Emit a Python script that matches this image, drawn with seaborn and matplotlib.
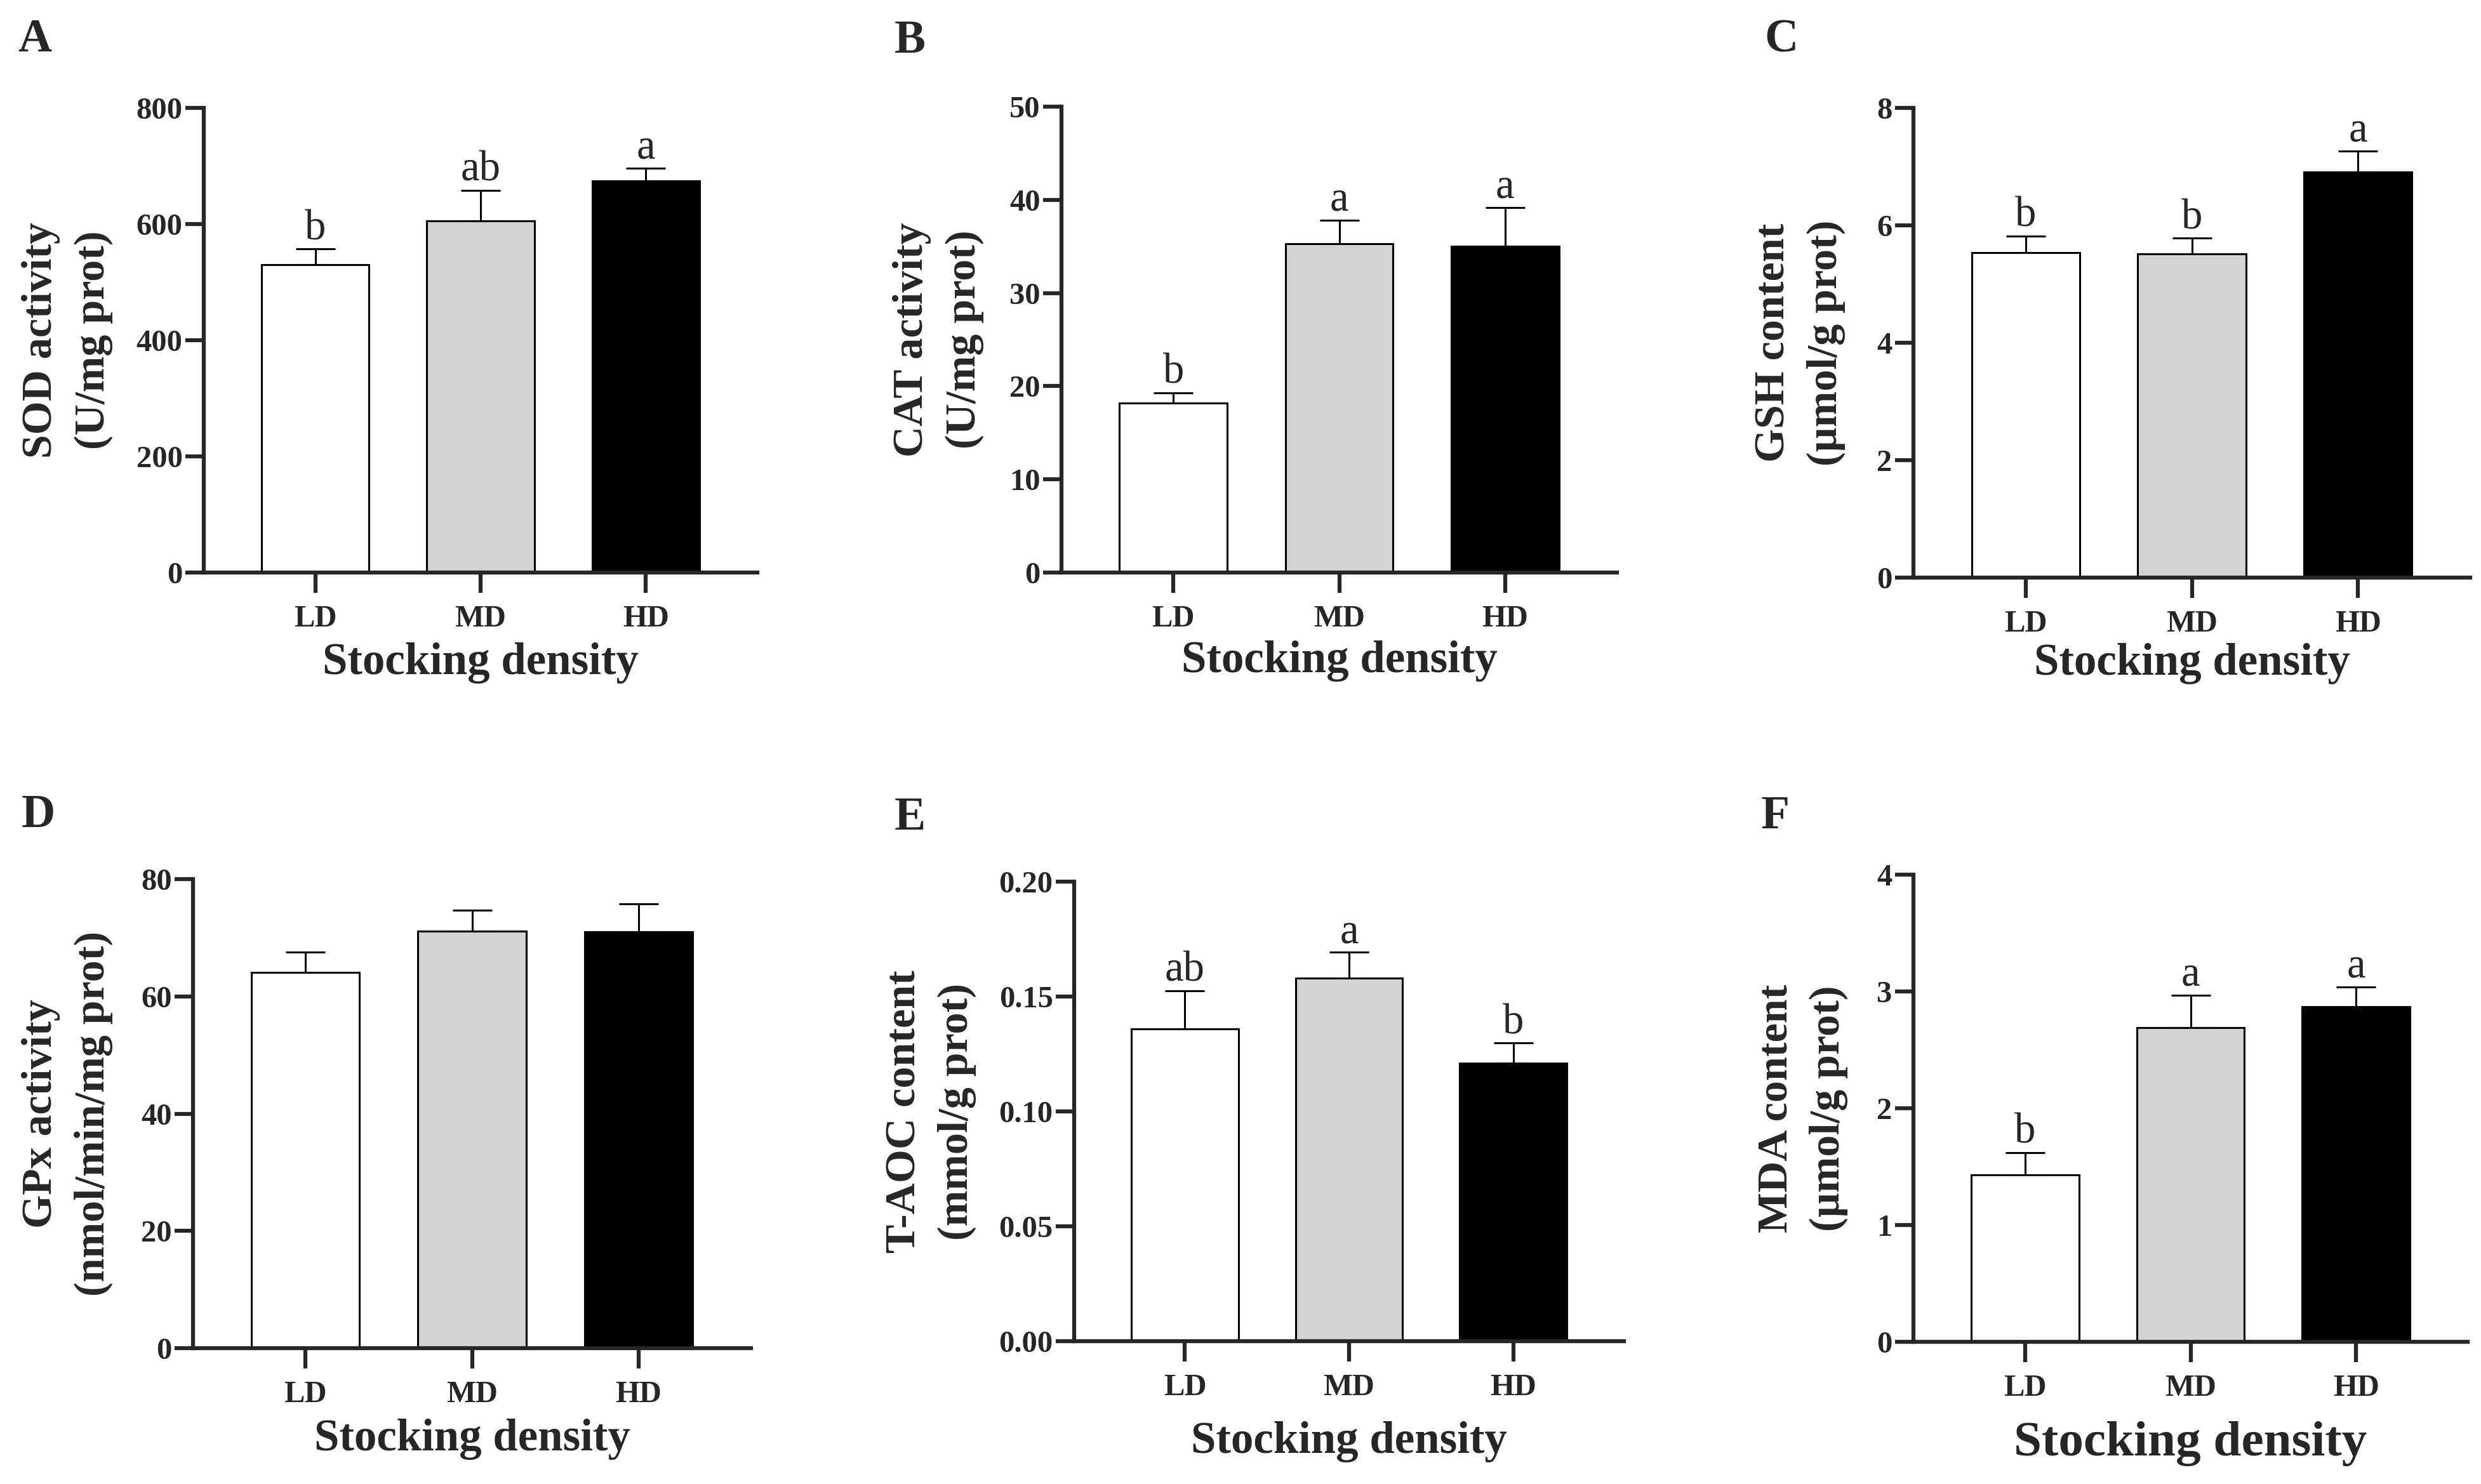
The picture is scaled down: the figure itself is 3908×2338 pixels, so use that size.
import matplotlib
matplotlib.use('Agg')
import matplotlib.pyplot as plt
import seaborn as sns
import numpy as np

# groups and colours
groups = ['LD', 'MD', 'HD']
bar_colors = ['#ffffff', '#d3d3d3', '#000000']

# values (mean, upper error)
sod = [530, 605, 674]
sod_err = [27, 53, 22]
sod_sig = ['b', 'ab', 'a']

cat = [18.2, 35.3, 35.0]
cat_err = [1.1, 2.5, 4.2]
cat_sig = ['b', 'a', 'a']

gsh = [5.54, 5.51, 6.91]
gsh_err = [0.28, 0.27, 0.36]
gsh_sig = ['b', 'b', 'a']

gpx = [64.1, 71.1, 71.0]
gpx_err = [3.5, 3.6, 4.8]
gpx_sig = ['', '', '']

taoc = [0.136, 0.158, 0.121]
taoc_err = [0.0165, 0.0112, 0.0087]
taoc_sig = ['ab', 'a', 'b']

mda = [1.43, 2.69, 2.87]
mda_err = [0.19, 0.28, 0.17]
mda_sig = ['b', 'a', 'a']

ylabels = ['SOD activity\n(U/mg prot)', 'CAT activity\n(U/mg prot)',
           'GSH content\n(µmol/g prot)', 'GPx activity\n(nmol/min/mg prot)',
           'T-AOC content\n(mmol/g prot)', 'MDA content\n(µmol/g prot)']
yticks = [[0, 200, 400, 600, 800], [0, 10, 20, 30, 40, 50], [0, 2, 4, 6, 8],
          [0, 20, 40, 60, 80], [0.00, 0.05, 0.10, 0.15, 0.20], [0, 1, 2, 3, 4]]
ytick_fmt = ['{:.0f}', '{:.0f}', '{:.0f}', '{:.0f}', '{:.2f}', '{:.0f}']
letters = ['A', 'B', 'C', 'D', 'E', 'F']

means = [sod, cat, gsh, gpx, taoc, mda]
errs = [sod_err, cat_err, gsh_err, gpx_err, taoc_err, mda_err]
sigs = [sod_sig, cat_sig, gsh_sig, gpx_sig, taoc_sig, mda_sig]

# layout in pixels (left, top, right, bottom)
W, H = 3908, 2338
boxes = [(321, 170, 1193, 902), (1672, 168, 2547, 902), (3014, 170, 3891, 910),
         (304, 1385, 1183, 2124), (1692, 1389, 2558, 2113), (3014, 1378, 3887, 2114)]
ylab_off = [215, 194, 179, 198, 226, 175]
xlab_y = [1044, 1042, 1046, 2268, 2272, 2274]
xlab_size = [51, 51, 51, 51, 51, 57]
letter_pos = [(55, 63), (1433, 65), (2806, 63), (60, 1285), (1433, 1289), (2796, 1287)]

sns.set_style('ticks')
plt.rcParams['font.family'] = ['Liberation Serif', 'DejaVu Serif']

fig = plt.figure(figsize=(W / 100, H / 100), dpi=100)

for i in range(6):
    l, t, r, b = boxes[i]
    ax = fig.add_axes([l / W, 1 - b / H, (r - l) / W, (b - t) / H])
    sns.barplot(x=groups, y=means[i], hue=groups, palette=bar_colors, saturation=1,
                edgecolor='black', linewidth=2.2, width=0.65, legend=False, ax=ax, zorder=2)
    ax.errorbar(range(3), means[i], yerr=[np.zeros(3), errs[i]], fmt='none',
                ecolor='black', elinewidth=2.2, capsize=22, capthick=2.2, zorder=1)
    top = yticks[i][-1]
    for j in range(3):
        if sigs[i][j]:
            ax.annotate(sigs[i][j], (j, means[i][j] + errs[i][j]), xytext=(0, 11),
                        textcoords='offset points', ha='center', va='baseline',
                        fontsize=48, fontweight='normal')
    ax.set_xlim(-0.675, 2.675)
    ax.set_ylim(0, top)
    ax.set_yticks(yticks[i])
    ax.set_yticklabels([ytick_fmt[i].format(v) for v in yticks[i]])
    sns.despine(ax=ax)
    for s in ['left', 'bottom']:
        ax.spines[s].set_linewidth(4.5)
    ax.tick_params(axis='y', length=21, width=4.5, pad=3, labelsize=35)
    ax.tick_params(axis='x', length=23, width=4.5, pad=14, labelsize=35)
    for lab in ax.get_xticklabels() + ax.get_yticklabels():
        lab.set_fontweight('bold')
    ax.set_xlabel('')
    ax.set_ylabel(ylabels[i], fontsize=49, fontweight='bold', va='center',
                  linespacing=1.45)
    ax.yaxis.set_label_coords(-ylab_off[i] / (r - l), 0.5)
    fig.text((l + r) / 2 / W, 1 - xlab_y[i] / H, 'Stocking density', ha='center',
             va='center', fontsize=xlab_size[i], fontweight='bold')
    fig.text(letter_pos[i][0] / W, 1 - letter_pos[i][1] / H, letters[i], ha='center',
             va='center', fontsize=53, fontweight='bold')

fig.savefig('out.png', dpi=100, facecolor='white')
